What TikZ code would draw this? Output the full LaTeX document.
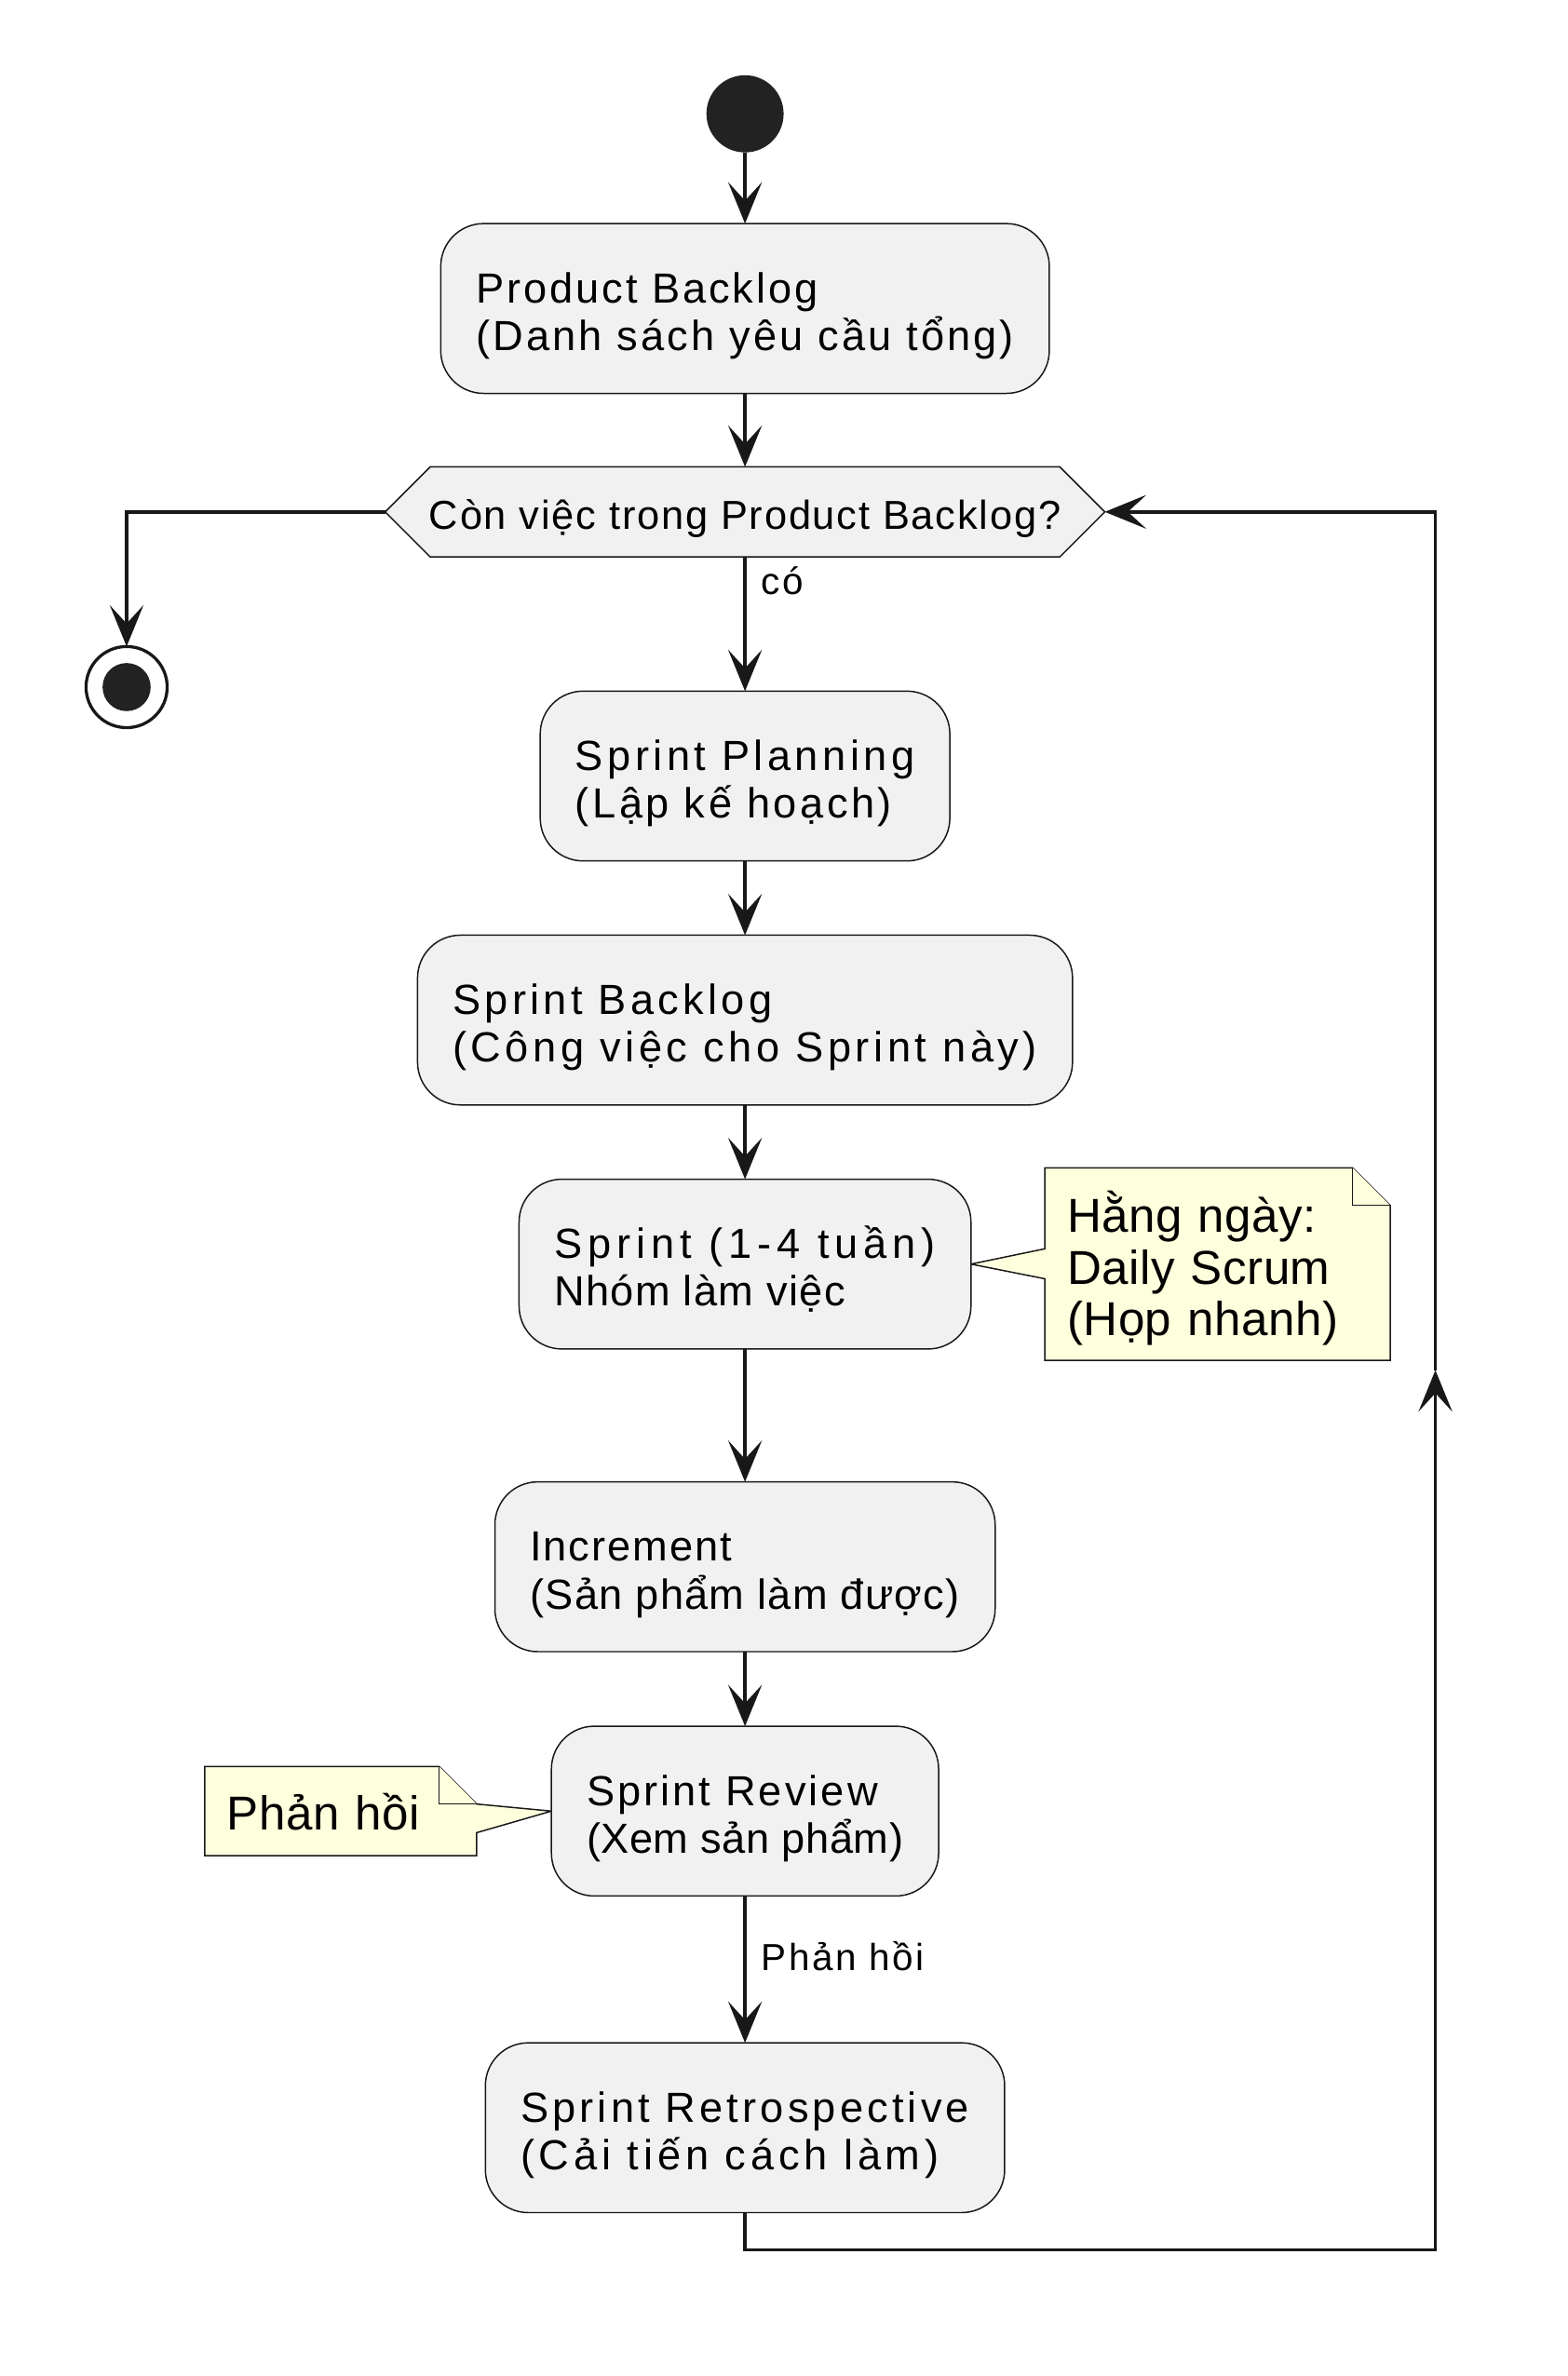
\documentclass[tikz,border=0pt]{standalone}
\usepackage{fontspec}
\setmainfont{Liberation Sans}
\usetikzlibrary{positioning,arrows.meta,backgrounds}

\definecolor{linecol}{HTML}{181818}
\definecolor{boxfill}{HTML}{F1F1F1}
\definecolor{notefill}{HTML}{FEFFDD}
\definecolor{startcol}{HTML}{222222}

\newcommand{\track}[2]{{\addfontfeature{LetterSpace=#1}#2}}
\newcommand{\boxtop}{\rule{0pt}{30.8pt}}
\newcommand{\boxbot}{\rule[-7pt]{0pt}{7pt}}
\newcommand{\actfont}{\fontsize{27.5pt}{31.2pt}\selectfont\lineskiplimit=-\maxdimen}
\newcommand{\decfont}{\fontsize{26.4pt}{30pt}\selectfont\addfontfeature{LetterSpace=4.1}}
\newcommand{\notefont}{\fontsize{31.1pt}{33.75pt}\selectfont\lineskiplimit=-\maxdimen\addfontfeature{LetterSpace=1}}
\newcommand{\lblfont}{\fontsize{24.6pt}{28pt}\selectfont\addfontfeature{LetterSpace=6.3}}

\tikzset{
	activity/.style={draw=linecol, line width=0.9pt, fill=boxfill, rounded corners=28pt, align=left, inner xsep=23pt, inner ysep=0pt, outer sep=0pt, minimum height=110.9pt, font=\actfont},
	decision/.style={align=center, inner xsep=28.7pt, inner ysep=0pt, outer sep=0pt, minimum height=58.8pt, text height=24pt, text depth=1.8pt, font=\decfont},
	hexagon/.style={draw=linecol, line width=0.9pt, fill=boxfill},
	note/.style={align=left, inner xsep=14.5pt, inner ysep=0pt, outer sep=0pt, font=\notefont},
	noteline/.style={draw=linecol, line width=0.9pt, fill=notefill},
	lbl/.style={inner sep=0pt, anchor=base west, xshift=9.5pt, font=\lblfont},
	flow/.style={draw=linecol, line width=2.1pt, -{Stealth[length=27pt, width=22pt, inset=12pt]}},
	startnode/.style={circle, fill=startcol, minimum size=50.4pt, inner sep=0pt, outer sep=0pt},
	stopnode/.style={circle, draw=linecol, line width=2pt, minimum size=53pt, inner sep=0pt, outer sep=0pt, path picture={\fill[startcol] (path picture bounding box.center) circle (15.7pt);}}
}

\begin{document}
\begin{tikzpicture}[x=1pt, y=-1pt]
	\useasboundingbox (0,0) rectangle (1024,1552);
	\node[activity] (backlog) at (486.6,201.5) {\boxtop\track{6.5}{Product Backlog}\\\track{7.0}{(Danh sách yêu cầu tổng)}\boxbot};
	\node[startnode, above=46.5pt of backlog] (start) {};
	\node[decision, below=48pt of backlog] (check) {Còn việc trong Product Backlog?};
	\node[activity, below=87.7pt of check] (planning) {\boxtop\track{9.8}{Sprint Planning}\\\track{7.7}{(Lập kế hoạch)}\boxbot};
	\node[activity, below=48.5pt of planning] (sprintbacklog) {\boxtop\track{9.5}{Sprint Backlog}\\\track{10.0}{(Công việc cho Sprint này)}\boxbot};
	\node[activity, below=48.5pt of sprintbacklog] (sprint) {\boxtop\track{13.1}{Sprint (1-4 tuần)}\\\track{3.0}{Nhóm làm việc}\boxbot};
	\node[activity, below=86.8pt of sprint] (increment) {\boxtop\track{4.4}{Increment}\\\track{2.9}{(Sản phẩm làm được)}\boxbot};
	\node[activity, below=48.7pt of increment] (review) {\boxtop\track{6.8}{Sprint Review}\\\track{1.2}{(Xem sản phẩm)}\boxbot};
	\node[activity, below=95.9pt of review] (retro) {\boxtop\track{9.2}{Sprint Retrospective}\\\track{10.7}{(Cải tiến cách làm)}\boxbot};
	\node[stopnode] (stop) at (82.7,448.8) {};
	\node[note, text width=196.5pt, minimum height=125.8pt, right=48.3pt of sprint] (daily) {\rule{0pt}{32.5pt}Hằng ngày:\\Daily Scrum\\(Họp nhanh)\rule[-6.6pt]{0pt}{6.6pt}};
	\node[note, text width=148.7pt, minimum height=58.2pt, text height=27pt, text depth=2pt, left=48.8pt of review] (feedback) {Phản hồi};
	\coordinate (loopbot) at (937.5,1469.6);
	\coordinate (looptip) at (937.5,895);
	\begin{pgfonlayer}{background}
		\draw[hexagon] (check.west) -- ([xshift=29.4pt]check.north west) -- ([xshift=-29.4pt]check.north east) -- (check.east) -- ([xshift=-29.4pt]check.south east) -- ([xshift=29.4pt]check.south west) -- cycle;
		\draw[noteline] (daily.north west) -- ([xshift=-24.5pt]daily.north east) -- ([yshift=-24.5pt]daily.north east) -- (daily.south east) -- (daily.south west) -- ([yshift=-9.6pt]daily.west) -- (sprint.east) -- ([yshift=10pt]daily.west) -- cycle;
		\draw[noteline] ([xshift=-24.5pt]daily.north east) -- ([xshift=-24.5pt, yshift=-24.5pt]daily.north east) -- ([yshift=-24.5pt]daily.north east);
		\draw[noteline] (feedback.north west) -- ([xshift=-24.5pt]feedback.north east) -- ([yshift=-24.5pt]feedback.north east) -- (review.west) -- ([yshift=-14.1pt]feedback.east) -- (feedback.south east) -- (feedback.south west) -- cycle;
		\draw[noteline] ([xshift=-24.5pt]feedback.north east) -- ([xshift=-24.5pt, yshift=-24.5pt]feedback.north east) -- ([yshift=-24.5pt]feedback.north east);
	\end{pgfonlayer}
	\draw[flow] (start) -- (backlog);
	\draw[flow] (backlog) -- (check);
	\draw[flow] (check.west) -| (stop);
	\draw[flow] (check) -- node[lbl, pos=0.278] {có} (planning);
	\draw[flow] (planning) -- (sprintbacklog);
	\draw[flow] (sprintbacklog) -- (sprint);
	\draw[flow] (sprint) -- (increment);
	\draw[flow] (increment) -- (review);
	\draw[flow] (review) -- node[lbl, pos=0.507] {Phản hồi} (retro);
	\draw[flow] (retro) |- (loopbot) -- (looptip);
	\draw[flow] (looptip) |- (check.east);
\end{tikzpicture}
\end{document}
